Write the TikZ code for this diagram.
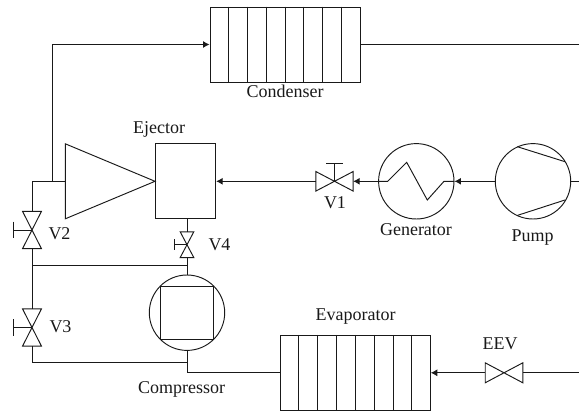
\documentclass[tikz,border=0pt]{standalone}
\usepackage{fontspec}
\setmainfont{Liberation Serif}
\usetikzlibrary{arrows.meta,calc}
\tikzset{
    flow/.style={-{Latex[length=6.5pt,width=7pt]}},
    hxbox/.style={rectangle,draw,minimum width=150pt,minimum height=75pt},
    unit/.style={circle,draw,minimum size=75.4pt},
    valvebox/.style={rectangle,inner sep=0pt},
    lbl/.style={inner sep=0pt,font=\fontsize{18}{20}\selectfont}
}
\newcommand{\hvalve}[1]{\draw (#1.north west) -- (#1.south east) -- (#1.north east) -- (#1.south west) -- cycle;}
\newcommand{\vvalve}[1]{\draw (#1.north west) -- (#1.south east) -- (#1.south west) -- (#1.north east) -- cycle;}
\begin{document}
\begin{tikzpicture}[x=1pt,y=-1pt,line width=0.95pt,color=black!90]
        \useasboundingbox (0,0) rectangle (579,415);
        \begin{scope}
            \node[hxbox] (cond) at (285,44.5) {};
            \node[hxbox] (evap) at (355.3,372.8) {};
            \node[rectangle,draw,minimum width=60.2pt,minimum height=75pt] (ejector) at (185.6,181.3) {};
            \node[unit] (gen) at (416.3,181.3) {};
            \node[unit] (pump) at (533,181.3) {};
            \node[unit] (comp) at (187,312.7) {};
            \node[rectangle,draw,minimum size=53pt] (compin) at (187,313.3) {};
            \node[valvebox,minimum width=36.4pt,minimum height=18.6pt] (v1) at (334.5,181.3) {};
            \node[valvebox,minimum width=18pt,minimum height=36.4pt] (v2) at (32,230) {};
            \node[valvebox,minimum width=18pt,minimum height=36.4pt] (v3) at (32,327.5) {};
            \node[valvebox,minimum width=12.6pt,minimum height=24.7pt] (v4) at (187,244.7) {};
            \node[valvebox,minimum width=36.6pt,minimum height=19pt] (eev) at (504,372.8) {};
            \coordinate (noza) at (65.3,143.8);
            \coordinate (nozb) at (65.3,218.8);
            \coordinate (noztip) at (ejector.west);
            \coordinate (nozin) at (65.3,181.3);
            \coordinate (tee) at (52.3,181.3);
            \coordinate (corner) at (52.3,44.5);
            \coordinate (elbow) at (32,181.3);
            \coordinate (ejbot) at (187,218.8);
            \coordinate (midl) at (32,265);
            \coordinate (midr) at (187,265);
            \coordinate (lowl) at (32,362.3);
            \coordinate (lowr) at (187,362.3);
            \coordinate (compdown) at (187,372.8);
            \coordinate (rtop) at (579,44.5);
            \coordinate (rmid) at (579,181.3);
            \coordinate (rlow) at (579,372.8);
            \coordinate (stema) at (334.5,163);
            \coordinate (stemb) at (13.7,230);
            \coordinate (stemc) at (13.7,327.5);
            \coordinate (stemd) at (174.3,244.7);
        \end{scope}
        % exchanger plates
        \foreach \i in {1,...,7} {
            \draw ($(cond.north west)!\i/8!(cond.north east)$) -- ($(cond.south west)!\i/8!(cond.south east)$);
            \draw ($(evap.north west)!\i/8!(evap.north east)$) -- ($(evap.south west)!\i/8!(evap.south east)$);
        }
        \draw (noza) -- (nozb) -- (noztip) -- cycle;
        \hvalve{v1} \hvalve{eev}
        \vvalve{v2} \vvalve{v3} \vvalve{v4}
        % handles
        \draw (v1.center) -- (stema) (326,163) -- (343,163);
        \draw (v2.center) -- (stemb) (13.7,221.7) -- (13.7,238.3);
        \draw (v3.center) -- (stemc) (13.7,319.2) -- (13.7,335.8);
        \draw (v4.center) -- (stemd) (174.3,239) -- (174.3,250.4);
        % generator coil and pump vanes
        \draw (gen.west) -- (387.7,181.3) -- (406.7,162.3) -- (427.3,200) -- (444,181.3) -- (gen.east);
        \draw (517.3,146.7) -- (565,161.7) (517.7,215.3) -- (565,200);
        \begin{scope}[every edge/.style={draw}]
            \path (rtop) edge (cond.east)
                  (corner) edge[flow] (cond.west)
                  (tee) edge (corner)
                  (elbow) edge (nozin)
                  (elbow) edge (v2.north)
                  (v2.south) edge (v3.north)
                  (midl) edge (midr)
                  (v3.south) edge (lowl)
                  (lowl) edge (lowr)
                  (ejbot) edge (v4.north)
                  (v4.south) edge (comp.north)
                  (comp.south) edge (compdown)
                  (compdown) edge (evap.west)
                  (rlow) edge (eev.east)
                  (eev.west) edge[flow] (evap.east)
                  (rmid) edge (pump.east)
                  (pump.west) edge[flow] (gen.east)
                  (gen.west) edge[flow] (v1.east)
                  (v1.west) edge[flow] (ejector.east);
        \end{scope}
        \begin{scope}[every node/.style={lbl}]
            \node (lcond) at (285,91) {Condenser};
            \node (lejector) at (159,129.5) {Ejector};
            \node (lv1) at (335,203) {V1};
            \node (lgen) at (416,230) {Generator};
            \node (lpump) at (532.7,237.5) {Pump};
            \node (lv2) at (59.5,233.5) {V2};
            \node (lv4) at (219.5,245) {V4};
            \node (lv3) at (60.5,327) {V3};
            \node (lcomp) at (181.7,389.5) {Compressor};
            \node (levap) at (355.7,317) {Evaporator};
            \node (leev) at (500,344) {EEV};
        \end{scope}
    \end{tikzpicture}
\end{document}
